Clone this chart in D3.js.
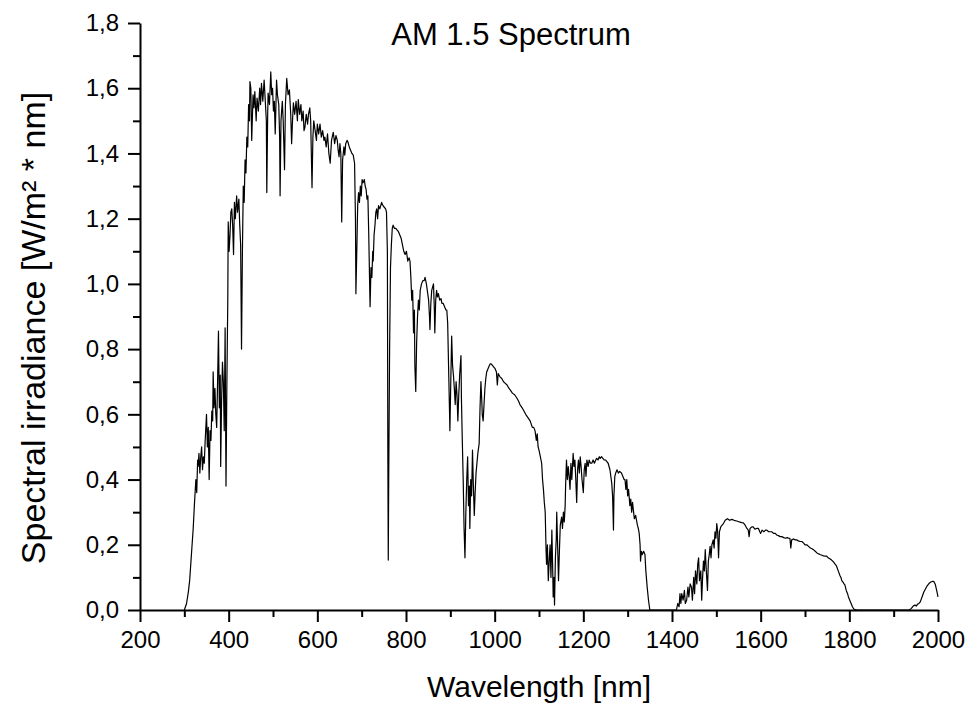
<!DOCTYPE html>
<html>
<head>
<meta charset="utf-8">
<script src="https://cdn.jsdelivr.net/npm/d3@7/dist/d3.min.js"></script>
<style>
  html, body { margin: 0; padding: 0; background: #fff; }
  svg { display: block; }
  text { font-family: "Liberation Sans", Arial, sans-serif; fill: #000; }
</style>
</head>
<body>
<svg id="chart" width="969" height="706"></svg>
<script>
const chartTitle = "AM 1.5 Spectrum";
const xTitle = "Wavelength [nm]";
const yTitle = "Spectral irradiance [W/m² * nm]";

const xTicks = [200, 400, 600, 800, 1000, 1200, 1400, 1600, 1800, 2000];
const xMinorTicks = [300, 500, 700, 900, 1100, 1300, 1500, 1700, 1900];
const yTicks = [0, 0.2, 0.4, 0.6, 0.8, 1.0, 1.2, 1.4, 1.6, 1.8];
const yMinorTicks = [0.1, 0.3, 0.5, 0.7, 0.9, 1.1, 1.3, 1.5, 1.7];

const wavelength = [
300,305,309,312,314,317,320,323,326,328,330,331,333,335,337,339,341,343,345,347,
350,352,354,356,358,360,362,364,365,367,369,371,373,375,377,379,381,382,384,386,
388,390,392,393,394,396,398,399,401,403,405,407,409,411,413,415,418,420,423,425,
427,429,431,433,435,437,439,441,443,445,447,448,450,452,455,457,459,462,464,467,
470,472,474,477,480,483,485,486,488,489,492,495,497,499,501,503,505,508,510,513,
515,516,518,521,523,526,528,531,534,537,540,542,544,546,549,552,555,557,560,563,
565,568,570,572,575,578,580,583,585,588,590,592,595,598,600,603,606,609,612,615,
617,620,623,626,629,632,636,639,642,645,647,649,651,653,655,657,660,662,664,667,
669,672,675,678,681,684,686,687,689,691,693,695,697,699,701,703,706,708,710,712,
714,716,718,719,721,723,725,726,728,730,732,734,736,738,741,745,748,751,754,756,
758,759,760,761,763,765,767,769,771,774,777,780,783,786,789,792,795,798,801,804,
807,809,811,813,815,817,819,820,822,824,826,828,830,832,835,838,841,843,846,848,
851,853,854,856,858,860,862,864,865,867,869,871,873,876,879,881,884,887,890,892,
894,896,898,899,901,903,905,907,909,911,913,915,917,919,921,923,924,925,927,929,
931,933,935,937,939,941,943,944,946,948,950,952,954,956,958,960,962,965,967,969,
971,972,974,976,978,980,982,985,988,990,992,995,998,1001,1004,1006,1008,1012,1016,1020,
1024,1028,1032,1035,1040,1045,1050,1054,1057,1062,1066,1070,1075,1080,1085,1088,1091,1094,1096,1098,
1100,1103,1106,1108,1110,1112,1114,1116,1117,1119,1121,1123,1125,1127,1129,1131,1132,1134,1135,1137,
1139,1140,1142,1144,1146,1148,1151,1153,1155,1157,1159,1160,1162,1164,1166,1168,1170,1172,1174,1177,
1179,1181,1183,1185,1187,1189,1191,1193,1195,1197,1200,1202,1204,1206,1208,1211,1213,1216,1219,1222,
1225,1228,1230,1233,1236,1238,1241,1244,1247,1250,1253,1256,1258,1260,1262,1264,1266,1268,1269,1271,
1273,1276,1279,1282,1286,1289,1292,1294,1296,1298,1300,1302,1305,1307,1309,1311,1313,1315,1318,1320,
1322,1324,1326,1328,1329,1331,1333,1336,1339,1341,1344,1347,1350,1410,1413,1416,1418,1420,1422,1425,
1428,1430,1433,1436,1438,1441,1444,1446,1449,1451,1453,1456,1458,1460,1462,1465,1467,1469,1471,1473,
1475,1477,1480,1482,1484,1486,1488,1490,1493,1495,1497,1499,1501,1503,1505,1507,1510,1513,1516,1520,
1525,1530,1535,1540,1546,1552,1557,1561,1565,1569,1572,1574,1576,1580,1583,1587,1591,1595,1598,1600,
1603,1607,1611,1614,1618,1621,1625,1629,1633,1636,1640,1644,1648,1652,1656,1660,1663,1666,1668,1670,
1674,1678,1681,1685,1689,1693,1697,1700,1704,1708,1712,1716,1719,1723,1727,1731,1734,1738,1742,1745,
1749,1752,1756,1760,1764,1767,1771,1775,1779,1781,1783,1786,1788,1790,1793,1796,1798,1801,1804,1807,
1810,1817,1935,1940,1944,1948,1951,1954,1957,1960,1964,1968,1972,1976,1980,1984,1988,1991,1994,1997,
2000
];

const irradiance = [
0.00,0.02,0.055,0.09,0.13,0.19,0.25,0.33,0.40,0.36,0.46,0.44,0.48,0.42,0.47,0.50,0.43,0.47,0.45,0.52,
0.60,0.50,0.56,0.40,0.55,0.52,0.61,0.58,0.73,0.62,0.68,0.60,0.56,0.70,0.855,0.62,0.72,0.44,0.64,0.76,
0.70,0.55,0.865,0.60,0.38,0.70,0.95,1.19,1.10,1.15,1.22,1.23,1.18,1.09,1.25,1.20,1.27,1.22,1.26,1.18,
1.12,0.80,1.10,1.30,1.25,1.38,1.34,1.45,1.42,1.55,1.50,1.62,1.60,1.44,1.58,1.54,1.59,1.50,1.57,1.53,
1.60,1.55,1.615,1.56,1.625,1.55,1.50,1.28,1.52,1.585,1.55,1.65,1.58,1.60,1.53,1.56,1.46,1.625,1.58,1.55,
1.45,1.27,1.50,1.56,1.50,1.35,1.55,1.63,1.58,1.595,1.52,1.43,1.50,1.555,1.52,1.56,1.50,1.565,1.52,1.55,
1.50,1.53,1.47,1.48,1.52,1.49,1.52,1.54,1.50,1.295,1.45,1.50,1.47,1.44,1.49,1.46,1.49,1.45,1.47,1.44,
1.45,1.42,1.46,1.40,1.37,1.44,1.465,1.43,1.455,1.44,1.41,1.39,1.43,1.40,1.19,1.38,1.42,1.395,1.43,1.44,
1.435,1.42,1.41,1.40,1.395,1.37,1.20,0.97,1.10,1.24,1.28,1.25,1.30,1.27,1.32,1.31,1.32,1.30,1.29,1.26,
1.27,1.15,1.00,0.93,1.05,1.02,1.10,1.07,1.15,1.18,1.22,1.23,1.20,1.24,1.23,1.25,1.24,1.235,1.23,1.22,
1.10,0.50,0.153,0.40,0.80,1.05,1.12,1.17,1.18,1.17,1.17,1.165,1.16,1.15,1.14,1.12,1.10,1.09,1.10,1.07,
1.08,1.07,1.02,0.95,0.98,0.85,0.92,0.75,0.67,0.82,0.90,0.95,0.92,0.98,1.00,1.01,1.01,1.02,1.00,0.98,
0.95,0.90,0.86,0.94,0.98,0.99,1.00,0.92,0.85,0.95,0.98,0.96,0.97,0.95,0.955,0.94,0.94,0.93,0.92,0.92,
0.88,0.75,0.62,0.55,0.70,0.84,0.75,0.72,0.68,0.63,0.70,0.66,0.58,0.66,0.72,0.76,0.78,0.65,0.52,0.40,
0.25,0.16,0.30,0.40,0.47,0.32,0.38,0.25,0.40,0.35,0.49,0.38,0.29,0.36,0.42,0.45,0.48,0.51,0.62,0.70,
0.64,0.60,0.58,0.63,0.68,0.71,0.73,0.74,0.75,0.755,0.755,0.75,0.745,0.74,0.73,0.69,0.725,0.715,0.71,0.70,
0.695,0.69,0.68,0.675,0.665,0.66,0.65,0.64,0.63,0.62,0.61,0.60,0.59,0.58,0.56,0.56,0.55,0.52,0.54,0.50,
0.49,0.47,0.45,0.40,0.37,0.33,0.30,0.18,0.14,0.20,0.09,0.15,0.20,0.10,0.245,0.12,0.04,0.10,0.015,0.16,
0.22,0.30,0.20,0.09,0.18,0.26,0.285,0.25,0.30,0.27,0.32,0.38,0.46,0.40,0.44,0.41,0.37,0.45,0.40,0.48,
0.44,0.46,0.40,0.33,0.43,0.46,0.42,0.47,0.44,0.40,0.36,0.43,0.45,0.41,0.46,0.44,0.46,0.45,0.45,0.46,
0.45,0.46,0.465,0.46,0.47,0.465,0.47,0.465,0.46,0.46,0.455,0.45,0.44,0.43,0.41,0.39,0.35,0.245,0.35,0.41,
0.42,0.43,0.42,0.425,0.42,0.41,0.40,0.40,0.37,0.40,0.35,0.37,0.32,0.34,0.30,0.33,0.305,0.28,0.29,0.275,
0.26,0.25,0.235,0.20,0.15,0.18,0.17,0.18,0.17,0.12,0.07,0.03,0.00,0.00,0.02,0.01,0.05,0.02,0.05,0.03,
0.06,0.02,0.03,0.07,0.04,0.08,0.07,0.03,0.10,0.05,0.12,0.08,0.14,0.16,0.09,0.12,0.03,0.10,0.15,0.12,
0.185,0.13,0.06,0.15,0.17,0.195,0.16,0.20,0.215,0.19,0.24,0.22,0.265,0.24,0.16,0.24,0.255,0.26,0.265,0.275,
0.28,0.275,0.278,0.275,0.273,0.27,0.268,0.267,0.26,0.25,0.245,0.225,0.25,0.255,0.255,0.248,0.25,0.25,0.24,0.235,
0.245,0.24,0.245,0.245,0.24,0.24,0.24,0.235,0.235,0.23,0.228,0.225,0.225,0.222,0.22,0.222,0.22,0.22,0.19,0.215,
0.218,0.215,0.215,0.212,0.21,0.21,0.205,0.20,0.20,0.195,0.19,0.188,0.185,0.18,0.175,0.172,0.17,0.168,0.166,0.165,
0.165,0.16,0.157,0.153,0.148,0.142,0.135,0.12,0.105,0.10,0.09,0.085,0.08,0.077,0.06,0.05,0.04,0.03,0.02,0.01,
0.003,0.00,0.00,0.005,0.012,0.015,0.012,0.018,0.02,0.025,0.04,0.055,0.065,0.075,0.082,0.086,0.088,0.087,0.078,0.06,
0.04
];

const spectrum = wavelength.map((w, i) => ({ w, v: irradiance[i] }));

const svg = d3.select("#chart");
const margin = { left: 140, right: 31, top: 23, bottom: 96 };
const W = 969, H = 706;

const x = d3.scaleLinear().domain([200, 2000]).range([margin.left, W - margin.right]);
const y = d3.scaleLinear().domain([0, 1.8]).range([H - margin.bottom, margin.top]);

const fmt = v => d3.format(".1f")(v).replace(".", ",");

// minor ticks
svg.append("g")
  .attr("transform", `translate(0,${y(0)})`)
  .call(d3.axisBottom(x).tickValues(xMinorTicks).tickSize(7).tickSizeOuter(0).tickFormat(""))
  .call(g => g.select(".domain").remove())
  .call(g => g.selectAll("line").attr("stroke", "#000").attr("stroke-width", 2));
svg.append("g")
  .attr("transform", `translate(${x(200)},0)`)
  .call(d3.axisLeft(y).tickValues(yMinorTicks).tickSize(7).tickSizeOuter(0).tickFormat(""))
  .call(g => g.select(".domain").remove())
  .call(g => g.selectAll("line").attr("stroke", "#000").attr("stroke-width", 2));

// major axes
const xAxis = svg.append("g")
  .attr("transform", `translate(0,${y(0)})`)
  .call(d3.axisBottom(x).tickValues(xTicks).tickSize(12).tickSizeOuter(0).tickPadding(9).tickFormat(d3.format("d")));
xAxis.selectAll("text").attr("font-size", 24).attr("font-family", "'Liberation Sans', Arial, sans-serif").attr("fill", "#000");
xAxis.selectAll("line").attr("stroke", "#000").attr("stroke-width", 2);
xAxis.select(".domain").attr("stroke", "#000").attr("stroke-width", 2);

const yAxis = svg.append("g")
  .attr("transform", `translate(${x(200)},0)`)
  .call(d3.axisLeft(y).tickValues(yTicks).tickSize(12).tickSizeOuter(0).tickPadding(9).tickFormat(fmt));
yAxis.selectAll("text").attr("font-size", 24).attr("font-family", "'Liberation Sans', Arial, sans-serif").attr("fill", "#000");
yAxis.selectAll("line").attr("stroke", "#000").attr("stroke-width", 2);
yAxis.select(".domain").attr("stroke", "#000").attr("stroke-width", 2);

// spectrum line
const line = d3.line().x(d => x(d.w)).y(d => y(d.v));
svg.append("path")
  .datum(spectrum)
  .attr("fill", "none")
  .attr("stroke", "#000")
  .attr("stroke-width", 1.2)
  .attr("stroke-linejoin", "round")
  .attr("d", line);

// titles
svg.append("text")
  .attr("x", 511).attr("y", 45)
  .attr("text-anchor", "middle")
  .attr("font-size", 31)
  .text(chartTitle);

svg.append("text")
  .attr("x", (x(200) + x(2000)) / 2).attr("y", 697)
  .attr("text-anchor", "middle")
  .attr("font-size", 30)
  .text(xTitle);

svg.append("text")
  .attr("transform", `translate(45,328) rotate(-90)`)
  .attr("text-anchor", "middle")
  .attr("font-size", 34)
  .text(yTitle);
</script>
</body>
</html>
